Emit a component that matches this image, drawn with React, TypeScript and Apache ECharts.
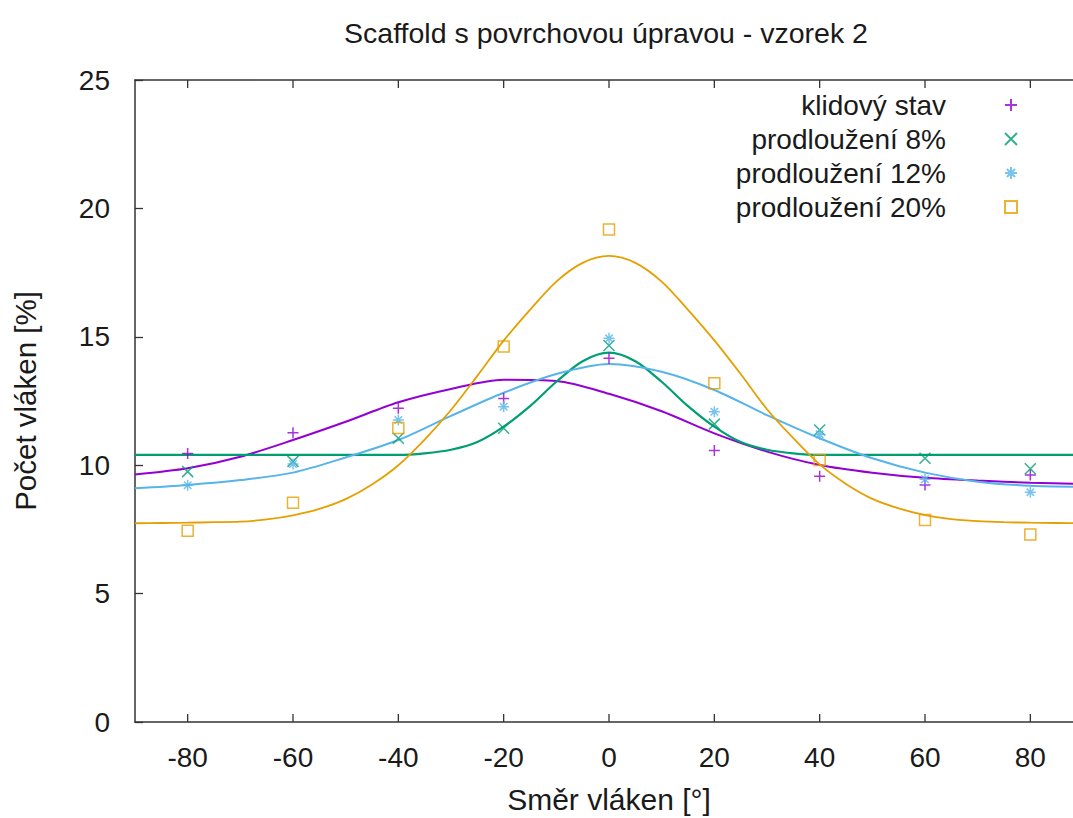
import React, { useEffect, useRef } from "react";
import * as echarts from "echarts";

const chartTitle = "Scaffold s povrchovou úpravou - vzorek 2";
const xAxisName = "Směr vláken [°]";
const yAxisName = "Počet vláken [%]";

const seriesNames = ["klidový stav", "prodloužení 8%", "prodloužení 12%", "prodloužení 20%"];
const seriesColors = ["#9400d3", "#009e73", "#56b4e9", "#e69f00"];

// measured points
const angles = [-80, -60, -40, -20, 0, 20, 40, 60, 80];
const klidovy = [10.46, 11.26, 12.22, 12.6, 14.16, 10.57, 9.57, 9.23, 9.62];
const prodl8 = [9.75, 10.15, 11.05, 11.44, 14.66, 11.6, 11.37, 10.27, 9.86];
const prodl12 = [9.22, 10.05, 11.76, 12.28, 14.94, 12.08, 11.2, 9.45, 8.95];
const prodl20 = [7.45, 8.54, 11.45, 14.62, 19.18, 13.19, 10.2, 7.87, 7.3];

// fitted curves
const curveAngles10 = [-90, -80, -70, -60, -50, -40, -30, -20, -10, 0, 10, 20, 30, 40, 50, 60, 70, 80, 90];
const curveAngles5 = [
  -90, -85, -80, -75, -70, -65, -60, -55, -50, -45, -40, -35, -30, -25, -20, -15, -10, -5, 0,
  5, 10, 15, 20, 25, 30, 35, 40, 45, 50, 55, 60, 65, 70, 75, 80, 85, 90,
];
const fitKlidovy = [9.64, 9.88, 10.33, 10.98, 11.69, 12.45, 12.97, 13.33, 13.28, 12.78, 12.1, 11.24, 10.53, 10.01, 9.71, 9.51, 9.4, 9.32, 9.27];
const fitProdl12 = [9.1, 9.23, 9.42, 9.71, 10.3, 10.98, 11.92, 12.82, 13.55, 13.94, 13.64, 12.93, 11.95, 11.05, 10.27, 9.71, 9.36, 9.2, 9.16];
const fitProdl8 = [
  10.4, 10.4, 10.4, 10.4, 10.4, 10.4, 10.4, 10.4, 10.4, 10.4, 10.4, 10.46, 10.6, 10.9, 11.5, 12.3, 13.25, 14.05, 14.38,
  14.05, 13.25, 12.3, 11.5, 10.9, 10.6, 10.46, 10.4, 10.4, 10.4, 10.4, 10.4, 10.4, 10.4, 10.4, 10.4, 10.4, 10.4,
];
const fitProdl20 = [
  7.74, 7.75, 7.76, 7.78, 7.8, 7.89, 8.05, 8.3, 8.68, 9.25, 10.0, 11.0, 12.15, 13.48, 14.85, 16.05, 17.15, 17.88, 18.15,
  17.88, 17.15, 16.05, 14.86, 13.55, 12.18, 11.05, 10.03, 9.27, 8.69, 8.32, 8.06, 7.9, 7.82, 7.78, 7.76, 7.75, 7.74,
];

const xTicks = [-80, -60, -40, -20, 0, 20, 40, 60, 80];

const markerPaths = [
  "path://M5,0L5,10M0,5L10,5",
  "path://M0,0L10,10M10,0L0,10",
  "path://M5,0L5,10M0,5L10,5M1.6,1.6L8.4,8.4M8.4,1.6L1.6,8.4",
  "path://M0,0L10,0L10,10L0,10Z",
];

const FONT = "Liberation Sans, Arial, sans-serif";
const FS = 28;
const TXT = "#1a1a1a";
const AXIS = "#333";

export default function App() {
  const ref = useRef<HTMLDivElement>(null);
  useEffect(() => {
    if (!ref.current) return;
    const chart = echarts.init(ref.current, null, { renderer: "svg" });
    const pointSets = [klidovy, prodl8, prodl12, prodl20];
    const fitSets = [
      { xs: curveAngles10, ys: fitKlidovy, w: 2 },
      { xs: curveAngles5, ys: fitProdl8, w: 2.2 },
      { xs: curveAngles10, ys: fitProdl12, w: 2 },
      { xs: curveAngles5, ys: fitProdl20, w: 1.8 },
    ];
    const lineSeries = fitSets.map((f, i) => ({
      name: "fit " + seriesNames[i],
      type: "line",
      data: f.xs.map((x, k) => [x, f.ys[k]]),
      smooth: 0.3,
      showSymbol: false,
      symbol: "none",
      lineStyle: { color: seriesColors[i], width: f.w },
      itemStyle: { color: seriesColors[i] },
      z: 2,
      silent: true,
    }));
    const scatterSeries = pointSets.map((ys, i) => ({
      name: seriesNames[i],
      type: "scatter",
      data: angles.map((x, k) => [x, ys[k]]),
      symbol: markerPaths[i],
      symbolSize: 11,
      itemStyle: { color: "transparent", borderColor: seriesColors[i], borderWidth: 1.5 },
      z: 3,
    }));
    const tickSeries = {
      name: "x ticks",
      type: "custom",
      silent: true,
      clip: false,
      z: 4,
      data: xTicks.map((v) => [v, 0]),
      renderItem: (_params: any, api: any) => {
        const v = api.value(0);
        const b = api.coord([v, 0]);
        const t = api.coord([v, 25]);
        const st = { stroke: AXIS, lineWidth: 1.3 };
        return {
          type: "group",
          children: [
            { type: "line", shape: { x1: b[0], y1: b[1], x2: b[0], y2: b[1] - 8 }, style: st },
            { type: "line", shape: { x1: t[0], y1: t[1], x2: t[0], y2: t[1] + 8 }, style: st },
          ],
        };
      },
    };
    chart.setOption({
      animation: false,
      title: {
        text: chartTitle,
        left: 601,
        top: 13,
        textAlign: "center",
        textStyle: { fontFamily: FONT, fontSize: 28.5, fontWeight: "normal", color: TXT },
      },
      legend: {
        data: seriesNames,
        orient: "vertical",
        right: 55,
        top: 88,
        align: "right",
        padding: 0,
        itemGap: 0,
        itemWidth: 120,
        itemHeight: 12,
        textStyle: { fontFamily: FONT, fontSize: FS, color: TXT, lineHeight: 34 },
      },
      grid: { left: 135, top: 80, width: 948, height: 642, containLabel: false, outerBoundsMode: "none" },
      xAxis: [
        {
          type: "value",
          min: -90,
          max: 90,
          position: "bottom",
          name: xAxisName,
          nameLocation: "middle",
          nameGap: 62,
          nameTextStyle: { fontFamily: FONT, fontSize: 30, color: TXT },
          axisLine: { show: true, onZero: false, lineStyle: { color: AXIS, width: 1.5 } },
          axisTick: { show: false },
          axisLabel: { customValues: xTicks, margin: 21, fontFamily: FONT, fontSize: FS, color: TXT },
          splitLine: { show: false },
        },
        {
          type: "value",
          min: -90,
          max: 90,
          position: "top",
          axisLine: { show: true, onZero: false, lineStyle: { color: AXIS, width: 1.5 } },
          axisTick: { show: false },
          axisLabel: { show: false },
          splitLine: { show: false },
        },
      ],
      yAxis: {
        type: "value",
        min: 0,
        max: 25,
        interval: 5,
        axisLine: { show: true, onZero: false, lineStyle: { color: AXIS, width: 1.5 } },
        axisTick: { show: true, inside: true, length: 8, lineStyle: { color: AXIS, width: 1.3 } },
        axisLabel: { margin: 25, fontFamily: FONT, fontSize: FS, color: TXT },
        splitLine: { show: false },
      },
      graphic: [
        {
          type: "text",
          x: 25,
          y: 401,
          rotation: Math.PI / 2,
          style: {
            text: yAxisName,
            fontFamily: FONT,
            fontSize: 29.5,
            fill: TXT,
            align: "center",
            verticalAlign: "middle",
          },
        },
      ],
      series: [...lineSeries, ...scatterSeries, tickSeries],
    });
    return () => chart.dispose();
  }, []);
  return (
    <div
      ref={ref}
      style={{ position: "absolute", left: 0, top: 0, width: 1073, height: 818, background: "#fff" }}
    />
  );
}
